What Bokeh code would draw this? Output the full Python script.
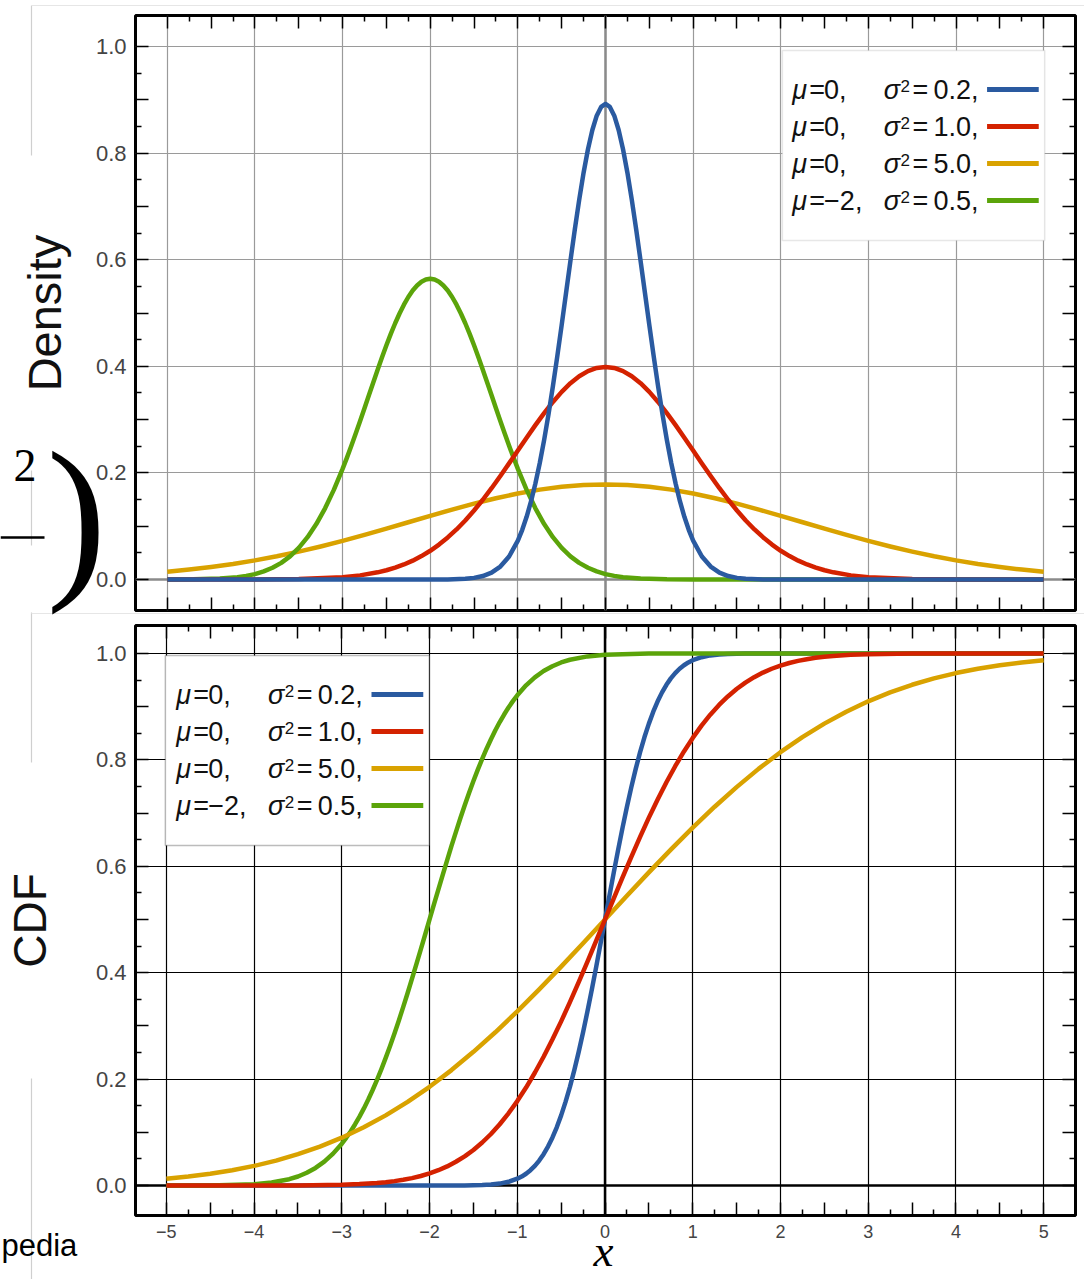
from bokeh.plotting import figure
from bokeh.models import (FixedTicker, CustomJSTickFormatter, LinearAxis, Span,
                          BoxAnnotation, Range1d)
from bokeh.layouts import column
from bokeh.embed import file_html
from bokeh.resources import INLINE
from bokeh.core.properties import value

# ---------------- data ----------------
means = [0, 0, 0, -2]
variances = [0.2, 1.0, 5.0, 0.5]
legend_mu = ["0,", "0,", "0,", "\u22122,"]
legend_var = ["0.2,", "1.0,", "5.0,", "0.5,"]

# density curves
blue_pdf_x = [-5.0, -2.0, -1.8, -1.6, -1.5, -1.4, -1.3, -1.2, -1.1, -1.0, -0.95, -0.9, -0.85, -0.8,
              -0.75, -0.7, -0.65, -0.6, -0.55, -0.5, -0.45, -0.4, -0.35, -0.3, -0.25, -0.2, -0.15,
              -0.1, -0.05, 0.0, 0.05, 0.1, 0.15, 0.2, 0.25, 0.3, 0.35, 0.4, 0.45, 0.5, 0.55, 0.6,
              0.65, 0.7, 0.75, 0.8, 0.85, 0.9, 0.95, 1.0, 1.1, 1.2, 1.3, 1.4, 1.5, 1.6, 1.8, 2.0, 5.0]
blue_pdf_y = [0.0, 0.0, 0.0003, 0.0015, 0.0032, 0.0066, 0.0130, 0.0244, 0.0433, 0.0732, 0.0934,
              0.1178, 0.1465, 0.1801, 0.2186, 0.2621, 0.3102, 0.3627, 0.4188, 0.4775, 0.5377, 0.5980,
              0.6568, 0.7124, 0.7631, 0.8072, 0.8433, 0.8701, 0.8865, 0.8921, 0.8865, 0.8701, 0.8433,
              0.8072, 0.7631, 0.7124, 0.6568, 0.5980, 0.5377, 0.4775, 0.4188, 0.3627, 0.3102, 0.2621,
              0.2186, 0.1801, 0.1465, 0.1178, 0.0934, 0.0732, 0.0433, 0.0244, 0.0130, 0.0066, 0.0032,
              0.0015, 0.0003, 0.0, 0.0]

red_pdf_x = [-5.0, -4.0, -3.5, -3.0, -2.8, -2.6, -2.5, -2.4, -2.3, -2.2, -2.1, -2.0, -1.9, -1.8, -1.7,
             -1.6, -1.5, -1.4, -1.3, -1.2, -1.1, -1.0, -0.9, -0.8, -0.7, -0.6, -0.5, -0.4, -0.3, -0.2,
             -0.1, 0.0, 0.1, 0.2, 0.3, 0.4, 0.5, 0.6, 0.7, 0.8, 0.9, 1.0, 1.1, 1.2, 1.3, 1.4, 1.5,
             1.6, 1.7, 1.8, 1.9, 2.0, 2.1, 2.2, 2.3, 2.4, 2.5, 2.6, 2.8, 3.0, 3.5, 4.0, 5.0]
red_pdf_y = [0.0, 0.0001, 0.0009, 0.0044, 0.0079, 0.0136, 0.0175, 0.0224, 0.0283, 0.0355, 0.0440,
             0.0540, 0.0656, 0.0790, 0.0940, 0.1109, 0.1295, 0.1497, 0.1714, 0.1942, 0.2179, 0.2420,
             0.2661, 0.2897, 0.3123, 0.3332, 0.3521, 0.3683, 0.3814, 0.3910, 0.3970, 0.3989, 0.3970,
             0.3910, 0.3814, 0.3683, 0.3521, 0.3332, 0.3123, 0.2897, 0.2661, 0.2420, 0.2179, 0.1942,
             0.1714, 0.1497, 0.1295, 0.1109, 0.0940, 0.0790, 0.0656, 0.0540, 0.0440, 0.0355, 0.0283,
             0.0224, 0.0175, 0.0136, 0.0079, 0.0044, 0.0009, 0.0001, 0.0]

orange_pdf_x = [-5.0, -4.75, -4.5, -4.25, -4.0, -3.75, -3.5, -3.25, -3.0, -2.75, -2.5, -2.25, -2.0,
                -1.75, -1.5, -1.25, -1.0, -0.75, -0.5, -0.25, 0.0, 0.25, 0.5, 0.75, 1.0, 1.25, 1.5,
                1.75, 2.0, 2.25, 2.5, 2.75, 3.0, 3.25, 3.5, 3.75, 4.0, 4.25, 4.5, 4.75, 5.0]
orange_pdf_y = [0.0146, 0.0187, 0.0236, 0.0293, 0.0360, 0.0437, 0.0524, 0.0620, 0.0725, 0.0837,
                0.0955, 0.1075, 0.1196, 0.1313, 0.1425, 0.1526, 0.1614, 0.1687, 0.1740, 0.1773,
                0.1784, 0.1773, 0.1740, 0.1687, 0.1614, 0.1526, 0.1425, 0.1313, 0.1196, 0.1075,
                0.0955, 0.0837, 0.0725, 0.0620, 0.0524, 0.0437, 0.0360, 0.0293, 0.0236, 0.0187, 0.0146]

green_pdf_x = [-5.0, -4.7, -4.4, -4.2, -4.1, -4.0, -3.9, -3.8, -3.7, -3.6, -3.5, -3.4, -3.3, -3.2, -3.1,
               -3.0, -2.95, -2.9, -2.85, -2.8, -2.75, -2.7, -2.65, -2.6, -2.55, -2.5, -2.45, -2.4,
               -2.35, -2.3, -2.25, -2.2, -2.15, -2.1, -2.05, -2.0, -1.95, -1.9, -1.85, -1.8, -1.75,
               -1.7, -1.65, -1.6, -1.55, -1.5, -1.45, -1.4, -1.35, -1.3, -1.25, -1.2, -1.15, -1.1,
               -1.05, -1.0, -0.9, -0.8, -0.7, -0.6, -0.5, -0.4, -0.3, -0.2, -0.1, 0.0, 0.1, 0.2, 0.4,
               0.7, 1.0, 5.0]
green_pdf_y = [0.0001, 0.0004, 0.0018, 0.0045, 0.0069, 0.0103, 0.0153, 0.0221, 0.0314, 0.0436, 0.0595,
               0.0795, 0.1041, 0.1337, 0.1682, 0.2076, 0.2288, 0.2510, 0.2739, 0.2975, 0.3215, 0.3456,
               0.3698, 0.3936, 0.4169, 0.4394, 0.4608, 0.4808, 0.4991, 0.5156, 0.5300, 0.5421, 0.5516,
               0.5586, 0.5628, 0.5642, 0.5628, 0.5586, 0.5516, 0.5421, 0.5300, 0.5156, 0.4991, 0.4808,
               0.4608, 0.4394, 0.4169, 0.3936, 0.3698, 0.3456, 0.3215, 0.2975, 0.2739, 0.2510, 0.2288,
               0.2076, 0.1682, 0.1337, 0.1041, 0.0795, 0.0595, 0.0436, 0.0314, 0.0221, 0.0153, 0.0103,
               0.0069, 0.0045, 0.0018, 0.0004, 0.0001, 0.0]

# cumulative curves
blue_cdf_x = [-5.0, -2.0, -1.6, -1.4, -1.3, -1.2, -1.1, -1.0, -0.95, -0.9, -0.85, -0.8, -0.75, -0.7,
              -0.65, -0.6, -0.55, -0.5, -0.45, -0.4, -0.35, -0.3, -0.25, -0.2, -0.15, -0.1, -0.05,
              0.0, 0.05, 0.1, 0.15, 0.2, 0.25, 0.3, 0.35, 0.4, 0.45, 0.5, 0.55, 0.6, 0.65, 0.7, 0.75,
              0.8, 0.85, 0.9, 0.95, 1.0, 1.1, 1.2, 1.3, 1.4, 1.6, 2.0, 5.0]
blue_cdf_y = [0.0, 0.0, 0.0002, 0.0009, 0.0018, 0.0036, 0.0070, 0.0127, 0.0168, 0.0221, 0.0287,
              0.0368, 0.0468, 0.0588, 0.0731, 0.0899, 0.1094, 0.1318, 0.1571, 0.1855, 0.2169, 0.2512,
              0.2880, 0.3274, 0.3687, 0.4115, 0.4555, 0.5, 0.5445, 0.5885, 0.6313, 0.6726, 0.7120,
              0.7488, 0.7831, 0.8145, 0.8429, 0.8682, 0.8906, 0.9101, 0.9269, 0.9412, 0.9532, 0.9632,
              0.9713, 0.9779, 0.9832, 0.9873, 0.9930, 0.9964, 0.9982, 0.9991, 0.9998, 1.0, 1.0]

red_cdf_x = [-5.0, -4.0, -3.5, -3.0, -2.8, -2.6, -2.5, -2.4, -2.3, -2.2, -2.1, -2.0, -1.9, -1.8, -1.7,
             -1.6, -1.5, -1.4, -1.3, -1.2, -1.1, -1.0, -0.9, -0.8, -0.7, -0.6, -0.5, -0.4, -0.3, -0.2,
             -0.1, 0.0, 0.1, 0.2, 0.3, 0.4, 0.5, 0.6, 0.7, 0.8, 0.9, 1.0, 1.1, 1.2, 1.3, 1.4, 1.5,
             1.6, 1.7, 1.8, 1.9, 2.0, 2.1, 2.2, 2.3, 2.4, 2.5, 2.6, 2.8, 3.0, 3.5, 4.0, 5.0]
red_cdf_y = [0.0, 0.0, 0.0002, 0.0013, 0.0026, 0.0047, 0.0062, 0.0082, 0.0107, 0.0139, 0.0179, 0.0228,
             0.0287, 0.0359, 0.0446, 0.0548, 0.0668, 0.0808, 0.0968, 0.1151, 0.1357, 0.1587, 0.1841,
             0.2119, 0.2420, 0.2743, 0.3085, 0.3446, 0.3821, 0.4207, 0.4602, 0.5, 0.5398, 0.5793,
             0.6179, 0.6554, 0.6915, 0.7257, 0.7580, 0.7881, 0.8159, 0.8413, 0.8643, 0.8849, 0.9032,
             0.9192, 0.9332, 0.9452, 0.9554, 0.9641, 0.9713, 0.9772, 0.9821, 0.9861, 0.9893, 0.9918,
             0.9938, 0.9953, 0.9974, 0.9987, 0.9998, 1.0, 1.0]

orange_cdf_x = [-5.0, -4.75, -4.5, -4.25, -4.0, -3.75, -3.5, -3.25, -3.0, -2.75, -2.5, -2.25, -2.0,
                -1.75, -1.5, -1.25, -1.0, -0.75, -0.5, -0.25, 0.0, 0.25, 0.5, 0.75, 1.0, 1.25, 1.5,
                1.75, 2.0, 2.25, 2.5, 2.75, 3.0, 3.25, 3.5, 3.75, 4.0, 4.25, 4.5, 4.75, 5.0]
orange_cdf_y = [0.0127, 0.0168, 0.0221, 0.0287, 0.0368, 0.0468, 0.0588, 0.0731, 0.0899, 0.1094,
                0.1318, 0.1571, 0.1855, 0.2169, 0.2512, 0.2880, 0.3274, 0.3687, 0.4115, 0.4555, 0.5,
                0.5445, 0.5885, 0.6313, 0.6726, 0.7120, 0.7488, 0.7831, 0.8145, 0.8429, 0.8682,
                0.8906, 0.9101, 0.9269, 0.9412, 0.9532, 0.9632, 0.9713, 0.9779, 0.9832, 0.9873]

green_cdf_x = [-5.0, -4.5, -4.0, -3.8, -3.6, -3.5, -3.4, -3.3, -3.2, -3.1, -3.0, -2.95, -2.9, -2.85,
               -2.8, -2.75, -2.7, -2.65, -2.6, -2.55, -2.5, -2.45, -2.4, -2.35, -2.3, -2.25, -2.2,
               -2.15, -2.1, -2.05, -2.0, -1.95, -1.9, -1.85, -1.8, -1.75, -1.7, -1.65, -1.6, -1.55,
               -1.5, -1.45, -1.4, -1.35, -1.3, -1.25, -1.2, -1.15, -1.1, -1.05, -1.0, -0.9, -0.8,
               -0.7, -0.6, -0.5, -0.4, -0.2, 0.0, 0.5, 1.0, 5.0]
green_cdf_y = [0.0, 0.0002, 0.0023, 0.0055, 0.0118, 0.0169, 0.0239, 0.0330, 0.0448, 0.0599, 0.0786,
               0.0896, 0.1015, 0.1147, 0.1289, 0.1444, 0.1611, 0.1790, 0.1981, 0.2183, 0.2398, 0.2623,
               0.2858, 0.3103, 0.3357, 0.3618, 0.3887, 0.4160, 0.4438, 0.4718, 0.5, 0.5282, 0.5562,
               0.5840, 0.6113, 0.6382, 0.6643, 0.6897, 0.7142, 0.7377, 0.7602, 0.7817, 0.8019, 0.8210,
               0.8389, 0.8556, 0.8711, 0.8853, 0.8985, 0.9104, 0.9214, 0.9401, 0.9552, 0.9670, 0.9761,
               0.9831, 0.9882, 0.9945, 0.9977, 0.9998, 1.0, 1.0]

# ticks
x_major_ticks = [-5, -4.5, -4, -3.5, -3, -2.5, -2, -1.5, -1, -0.5, 0, 0.5, 1, 1.5, 2, 2.5, 3, 3.5, 4, 4.5, 5]
x_minor_ticks = [-4.75, -4.25, -3.75, -3.25, -2.75, -2.25, -1.75, -1.25, -0.75, -0.25,
                 0.25, 0.75, 1.25, 1.75, 2.25, 2.75, 3.25, 3.75, 4.25, 4.75]
x_grid_ticks = [-5, -4, -3, -2, -1, 0, 1, 2, 3, 4, 5]
y_major_ticks = [0.0, 0.1, 0.2, 0.3, 0.4, 0.5, 0.6, 0.7, 0.8, 0.9, 1.0]
y_minor_ticks = [0.05, 0.15, 0.25, 0.35, 0.45, 0.55, 0.65, 0.75, 0.85, 0.95]
y_grid_ticks = [0.0, 0.2, 0.4, 0.6, 0.8, 1.0]

# fragments of other page content visible at the picture's edges
fragment_texts = ["2", ")", "pedia", "x"]

BLUE, RED, ORANGE, GREEN = "#2a5aa0", "#d42200", "#d9a200", "#5ba40a"
colors = [BLUE, RED, ORANGE, GREEN]

SANS = "Liberation Sans"
SERIF = "Liberation Serif"
PAGE_W, PAGE_H = 1084, 1279
BASE_SHIFT = 0.36   # baseline compensation (in em) for alphabetic-baseline text


class Frame:
    """maps page pixels of the frame to data units (for legend layout)"""
    def __init__(self, left, right, top, bottom, xr, yr):
        self.l, self.r, self.t, self.b, self.xr, self.yr = left, right, top, bottom, xr, yr

    def x(self, px):
        return self.xr[0] + (px - self.l) * (self.xr[1] - self.xr[0]) / (self.r - self.l)

    def y(self, py):
        return self.yr[1] - (py - self.t) * (self.yr[1] - self.yr[0]) / (self.b - self.t)


X_FMT = CustomJSTickFormatter(code="""
if (Math.abs(tick - Math.round(tick)) > 1e-6) return "";
const v = Math.round(tick);
return v < 0 ? "\u2212" + String(-v) : String(v);
""")
Y_FMT = CustomJSTickFormatter(code="""
const k = Math.round(tick * 10);
return (k % 2 === 0) ? (k / 10).toFixed(1) : "";
""")


def style_tick_axis(ax, labels):
    ax.axis_line_color = None
    ax.major_tick_in = 13
    ax.major_tick_out = 0
    ax.minor_tick_in = 6
    ax.minor_tick_out = 0
    ax.major_tick_line_color = "black"
    ax.minor_tick_line_color = "black"
    ax.major_tick_line_width = 1.5
    ax.minor_tick_line_width = 1.5
    if not labels:
        ax.formatter = CustomJSTickFormatter(code="return '';")
        ax.major_label_text_font_size = "0px"
        ax.major_label_standoff = 0


def make_panel(F, height, mb, grid_color, zero_color, x_labels, ylabel, ylabel_size, ylabel_standoff):
    p = figure(width=PAGE_W, height=height, output_backend="svg", toolbar_location=None,
               x_range=Range1d(*F.xr), y_range=Range1d(*F.yr),
               min_border_left=mb[0], min_border_right=mb[1], min_border_top=mb[2],
               min_border_bottom=mb[3])
    p.outline_line_color = "black"
    p.outline_line_width = 3
    p.background_fill_color = "white"
    p.border_fill_color = "white"

    xt = FixedTicker(ticks=x_major_ticks, minor_ticks=x_minor_ticks)
    yt = FixedTicker(ticks=y_major_ticks, minor_ticks=y_minor_ticks)

    bottom_ax = p.below[0]
    left_ax = p.left[0]
    bottom_ax.ticker = xt
    left_ax.ticker = yt
    style_tick_axis(bottom_ax, x_labels)
    style_tick_axis(left_ax, True)
    left_ax.formatter = Y_FMT
    left_ax.major_label_text_font = SANS
    left_ax.major_label_text_font_size = "22px"
    left_ax.major_label_text_color = "#444444"
    left_ax.major_label_standoff = 9
    left_ax.axis_label = ylabel
    left_ax.axis_label_text_font = SANS
    left_ax.axis_label_text_font_size = ylabel_size
    left_ax.axis_label_text_font_style = "normal"
    left_ax.axis_label_text_color = "#111111"
    left_ax.axis_label_standoff = ylabel_standoff
    if x_labels:
        bottom_ax.formatter = X_FMT
        bottom_ax.major_label_text_font = SANS
        bottom_ax.major_label_text_font_size = "18px"
        bottom_ax.major_label_text_color = "#444444"
        bottom_ax.major_label_standoff = 9

    top_ax = LinearAxis(ticker=xt)
    style_tick_axis(top_ax, False)
    p.add_layout(top_ax, "above")
    right_ax = LinearAxis(ticker=yt)
    style_tick_axis(right_ax, False)
    p.add_layout(right_ax, "right")

    p.xgrid.ticker = FixedTicker(ticks=x_grid_ticks)
    p.ygrid.ticker = FixedTicker(ticks=y_grid_ticks)
    p.grid.grid_line_color = grid_color
    p.grid.grid_line_width = 1.2
    p.grid.grid_line_alpha = 1.0

    p.add_layout(Span(location=0, dimension="width", line_color=zero_color, line_width=2.5,
                      level="underlay"))
    p.add_layout(Span(location=0, dimension="height", line_color=zero_color, line_width=2.5,
                      level="underlay"))
    return p


def add_legend(p, F, box, text_x, rows, border_color):
    left, top, right, bottom = box
    p.add_layout(BoxAnnotation(left=F.x(left), right=F.x(right), top=F.y(top), bottom=F.y(bottom),
                               fill_color="white", fill_alpha=1.0, line_color=border_color,
                               line_width=1.5, level="underlay"))
    size, sup_size = 27, 17
    base = [F.y(r + 10 - BASE_SHIFT * size) for r in rows]
    sup = [F.y(r + 3 - BASE_SHIFT * sup_size) for r in rows]
    mid = [F.y(r) for r in rows]

    def txt(dx, texts, ys, italic=False, sz=size):
        p.text(x=[F.x(text_x + dx)] * len(texts), y=ys, text=texts,
               text_font=value(SANS), text_font_style="italic" if italic else "normal",
               text_font_size=f"{sz}px", text_color="#111111", text_baseline="alphabetic",
               text_align="left")

    txt(0, ["\u03bc"] * 4, base, italic=True)
    txt(17, ["="] * 4, base)
    txt(32, legend_mu, base)
    txt(92, ["\u03c3"] * 4, base, italic=True)
    txt(109, ["2"] * 4, sup, sz=sup_size)
    txt(121, ["="] * 4, base)
    txt(142, legend_var, base)
    p.segment(x0=[F.x(text_x + 196)] * 4, x1=[F.x(text_x + 248)] * 4, y0=mid, y1=mid,
              line_color=colors, line_width=5)


lw = 4.5

# ---------------- top panel: density ----------------
FT = Frame(131, 1077, 15, 610, (-5.363, 5.363), (-0.058, 1.058))
p1 = make_panel(FT, 617, (131, 7, 15, 7), "#9a9a9a", "#8a8a8a", False, "Density", "47px", 22)
p1.line(orange_pdf_x, orange_pdf_y, line_color=ORANGE, line_width=lw, line_join="round")
p1.line(green_pdf_x, green_pdf_y, line_color=GREEN, line_width=lw, line_join="round")
p1.line(red_pdf_x, red_pdf_y, line_color=RED, line_width=lw, line_join="round")
p1.line(blue_pdf_x, blue_pdf_y, line_color=BLUE, line_width=lw, line_join="round")
add_legend(p1, FT, (782, 50, 1046, 240), 792, [89, 126, 163, 200], "#b0b0b0")

# ---------------- bottom panel: CDF ----------------
FB = Frame(131, 1075, 625, 1215, (-5.352, 5.363), (-0.0564, 1.0526))
p2 = make_panel(FB, 662, (131, 9, 8, 64), "black", "black", True, "CDF", "46px", 37)
p2.line(blue_cdf_x, blue_cdf_y, line_color=BLUE, line_width=lw, line_join="round")
p2.line(green_cdf_x, green_cdf_y, line_color=GREEN, line_width=lw, line_join="round")
p2.line(orange_cdf_x, orange_cdf_y, line_color=ORANGE, line_width=lw, line_join="round")
p2.line(red_cdf_x, red_cdf_y, line_color=RED, line_width=lw, line_join="round")
add_legend(p2, FB, (161, 655, 426, 845), 172, [694, 731, 768, 805], "#222222")

# ---------------- transparent overlay for texts outside the plot frames ----------------
deco = figure(width=PAGE_W, height=PAGE_H, output_backend="svg", toolbar_location=None,
              x_range=Range1d(0, PAGE_W), y_range=Range1d(PAGE_H, 0),
              x_axis_location=None, y_axis_location=None, title=None,
              min_border=0, min_border_left=0, min_border_right=0, min_border_top=0,
              min_border_bottom=0)
if "frame_align" in deco.properties():
    deco.frame_align = False
deco.grid.visible = False
deco.outline_line_color = None
deco.background_fill_alpha = 0
deco.border_fill_alpha = 0
deco.margin = (-PAGE_H, 0, 0, 0)

# faint edges of the page behind the chart
deco.segment(x0=[31, 31, 31, 31], y0=[5, 470, 612, 1078], x1=[31, 31, 31, 31], y1=[155, 545, 762, 1279],
             line_color="#cfcfcf", line_width=1.2)
deco.segment(x0=[31, 31], y0=[5, 613], x1=[PAGE_W, PAGE_W], y1=[5, 613],
             line_color="#e6e6e6", line_width=1.2)
deco.segment(x0=[0], y0=[537], x1=[44], y1=[537], line_color="black", line_width=2.5)


def deco_text(x, baseline, text, font, size, italic=False, align="left"):
    deco.text(x=[x], y=[baseline - BASE_SHIFT * size], text=[text], text_font=value(font),
              text_font_size=f"{size}px", text_font_style="italic" if italic else "normal",
              text_color="black", text_baseline="alphabetic", text_align=align)


deco_text(13, 482, fragment_texts[0], SERIF, 46)
deco_text(46, 580, fragment_texts[1], SERIF, 180)
deco_text(1, 1256, fragment_texts[2], SANS, 31)
deco_text(603, 1267, fragment_texts[3], SERIF, 45, italic=True, align="center")

layout = column(p1, p2, deco, spacing=0)
open("out.html", "w").write(file_html(layout, INLINE))
